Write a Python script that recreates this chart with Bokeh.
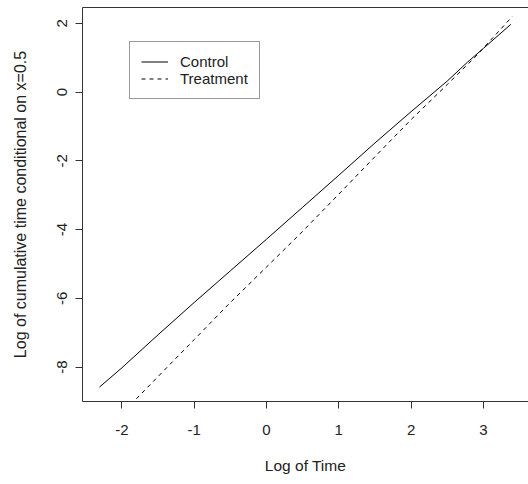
from bokeh.plotting import figure
from bokeh.models import FixedTicker, LinearAxis, Legend, LegendItem, Range1d, PrintfTickFormatter
from bokeh.embed import file_html
from bokeh.resources import INLINE

# Data
control_x = [-2.31, -2.0, -1.5, -1.0, -0.5, 0.0, 0.5, 1.0, 1.5, 2.0, 2.5, 2.78, 3.0, 3.38]
control_y = [-8.58, -8.02, -7.06, -6.12, -5.20, -4.28, -3.35, -2.42, -1.48, -0.57, 0.32, 0.87, 1.27, 1.97]
treat_x = [-1.80, -1.0, -0.5, 0.0, 0.5, 1.0, 1.5, 2.0, 2.5, 2.9, 3.4]
treat_y = [-8.92, -7.20, -6.12, -5.09, -4.05, -2.97, -1.88, -0.80, 0.22, 1.05, 2.20]
x_ticks = [-2, -1, 0, 1, 2, 3]
y_ticks = [-8, -6, -4, -2, 0, 2]
x_title = "Log of Time"
y_title = "Log of cumulative time conditional on x=0.5"
labels = ["Control", "Treatment"]

FONT = "Liberation Sans"

p = figure(width=528, height=484, output_backend="svg", toolbar_location=None,
           x_range=Range1d(-2.545, 3.624), y_range=Range1d(-9.0, 2.46),
           x_axis_location=None, y_axis_location=None,
           min_border_left=82, min_border_top=7, min_border_bottom=83, min_border_right=0)
p.grid.visible = False
p.outline_line_color = None
p.background_fill_color = "white"
p.border_fill_color = "white"

def style_axis(ax, ticks):
    ax.ticker = FixedTicker(ticks=ticks)
    ax.formatter = PrintfTickFormatter(format="%d")
    ax.minor_tick_line_color = None
    ax.major_tick_out = 7
    ax.major_tick_in = 0
    ax.axis_line_color = "#333333"
    ax.major_tick_line_color = "#333333"
    ax.major_label_text_font = FONT
    ax.major_label_text_font_size = "15px"
    ax.major_label_text_color = "#222222"
    ax.axis_label_text_font = FONT
    ax.axis_label_text_font_style = "normal"
    ax.axis_label_text_color = "#222222"

xa = LinearAxis(axis_label=x_title)
style_axis(xa, x_ticks)
xa.axis_label_text_font_size = "15.5px"
xa.major_label_standoff = 16
xa.axis_label_standoff = 19
p.add_layout(xa, "below")

ya = LinearAxis(axis_label=y_title)
style_axis(ya, y_ticks)
ya.axis_label_text_font_size = "16px"
ya.major_label_orientation = "vertical"
ya.major_label_standoff = 8
ya.axis_label_standoff = 26
p.add_layout(ya, "left")

top = LinearAxis(ticker=FixedTicker(ticks=[]), major_label_text_font_size="0px",
                 axis_line_color="#333333", major_tick_line_color=None, minor_tick_line_color=None)
p.add_layout(top, "above")

r1 = p.line(control_x, control_y, line_color="black", line_width=1)
r2 = p.line(treat_x, treat_y, line_color="black", line_width=1, line_dash="4 4")

legend = Legend(items=[LegendItem(label=labels[0], renderers=[r1]),
                       LegendItem(label=labels[1], renderers=[r2])],
                location=(47, 302))
legend.label_text_font = FONT
legend.label_text_font_size = "15px"
legend.label_text_color = "#222222"
legend.glyph_width = 27
legend.glyph_height = 17
legend.label_height = 17
legend.label_standoff = 12
legend.spacing = 0
legend.padding = 11
legend.margin = 0
legend.border_line_color = "#333333"
legend.border_line_width = 1
legend.background_fill_alpha = 1.0
p.add_layout(legend, "center")

open("out.html", "w").write(file_html(p, INLINE))
